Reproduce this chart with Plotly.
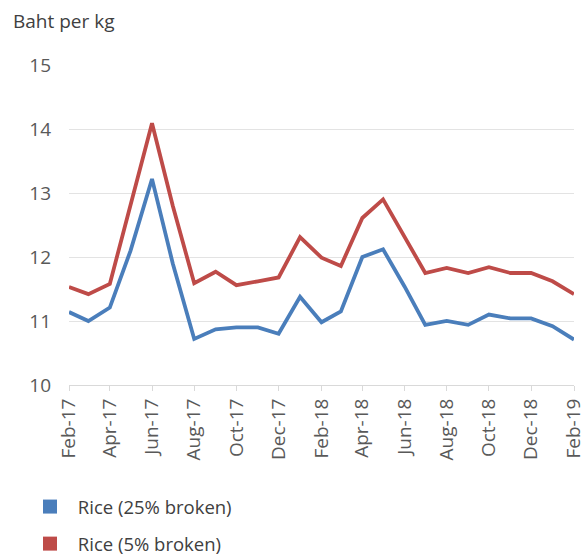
import plotly.graph_objects as go

months = ["2017-02-01","2017-03-01","2017-04-01","2017-05-01","2017-06-01","2017-07-01",
          "2017-08-01","2017-09-01","2017-10-01","2017-11-01","2017-12-01","2018-01-01",
          "2018-02-01","2018-03-01","2018-04-01","2018-05-01","2018-06-01","2018-07-01",
          "2018-08-01","2018-09-01","2018-10-01","2018-11-01","2018-12-01","2019-01-01",
          "2019-02-01"]
rice25 = [11.14, 11.0, 11.21, 12.1, 13.22, 11.9, 10.72, 10.87, 10.9, 10.9, 10.8, 11.38,
          10.98, 11.15, 12.0, 12.12, 11.54, 10.94, 11.0, 10.94, 11.1, 11.04, 11.04, 10.92, 10.71]
rice5 = [11.53, 11.42, 11.58, 12.82, 14.09, 12.8, 11.59, 11.77, 11.56, 11.62, 11.68, 12.31,
         11.99, 11.86, 12.61, 12.9, 12.33, 11.75, 11.83, 11.75, 11.84, 11.75, 11.75, 11.62, 11.42]
names = ["Rice (25% broken)", "Rice (5% broken)"]
colors = ["#4a7ebb", "#be4b48"]

fig = go.Figure()
for name, vals, c in zip(names, [rice25, rice5], colors):
    fig.add_trace(go.Scatter(x=months, y=vals, mode="lines", name=name,
                             line=dict(color=c, width=3.8), showlegend=False))
for i, (name, c) in enumerate(zip(names, colors)):
    fig.add_trace(go.Scatter(x=[None], y=[None], mode="markers", name="\u00a0" + name,
                             marker=dict(symbol="square", size=14, color=c),
                             legendgroup=f"g{i}", showlegend=True))

font = "Open Sans, Liberation Sans, sans-serif"
fig.update_layout(
    width=586, height=555,
    margin=dict(l=69, r=12, t=65, b=170, autoexpand=False),
    plot_bgcolor="white", paper_bgcolor="white",
    font=dict(family=font, color="#595959", size=18),
    xaxis=dict(type="date", range=["2017-02-01", "2019-02-01"],
               tick0="2017-02-01", dtick="M2", tickformat="%b-%y",
               tickangle=-90, showgrid=False, showline=True, linecolor="#d9d9d9",
               ticks="outside", ticklen=5, tickcolor="#d9d9d9", automargin=False,
               ticklabeloverflow="allow",
               tickfont=dict(size=19, color="#595959"), zeroline=False),
    yaxis=dict(range=[10, 15], dtick=1, showgrid=True, gridcolor="#e3e3e3",
               zeroline=False, showline=False, ticks="", ticklabelstandoff=17,
               automargin=False, tickfont=dict(size=19, color="#595959")),
    legend=dict(x=(27-69)/505, xanchor="left", y=-0.322, yanchor="top",
                orientation="v", tracegroupgap=10,
                font=dict(size=18.5, color="#404040"), itemwidth=36),
    annotations=[dict(text="Baht per kg", x=-58/505, y=(385-20)/321, xref="paper",
                      yref="paper", xanchor="left", yanchor="middle",
                      showarrow=False, font=dict(size=19, color="#404040"))],
)
fig.write_html("out.html", config={"displayModeBar": False},
               post_script="document.body.style.margin='0px';document.body.style.padding='0px';")
